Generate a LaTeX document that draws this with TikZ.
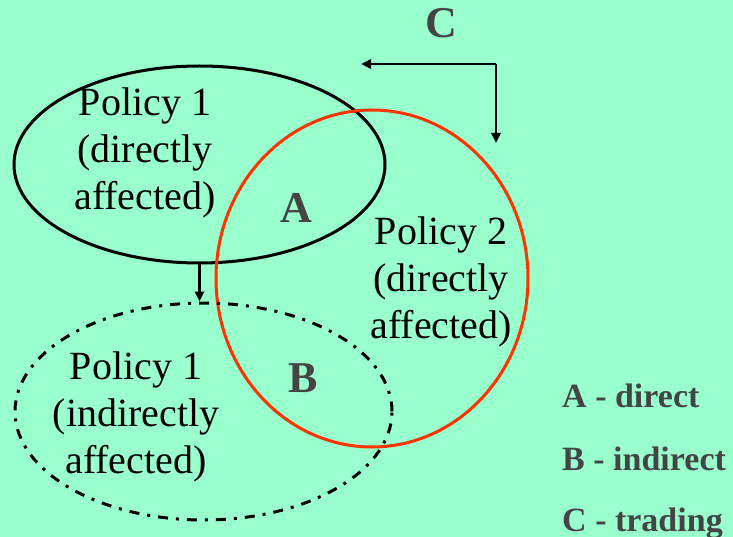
\documentclass[tikz,border=0pt]{standalone}
\usepackage{fontspec}
\setmainfont{Liberation Serif}
\usetikzlibrary{positioning, arrows.meta, shapes.geometric, calc}
\definecolor{MintBG}{HTML}{99FFCC}
\definecolor{RedA}{HTML}{FF3300}
\definecolor{GrayT}{HTML}{444444}
\tikzset{
  zone/.style={draw, ellipse, inner sep=0pt, line width=3pt},
  redzone/.style={zone, draw=RedA, line width=3pt},
  dotzone/.style={zone, dash pattern=on 10pt off 8pt on 3pt off 8pt},
  txt/.style={align=center, inner sep=0pt, font=\fontsize{40}{47}\selectfont},
  tag/.style={inner sep=0pt, text=GrayT, font=\fontsize{44}{50}\selectfont\bfseries},
  key/.style={inner sep=0pt, anchor=base west, text=GrayT, font=\fontsize{34}{40}\selectfont\bfseries},
  arr/.style={-{Triangle[length=10pt,width=9pt]}, line width=2.5pt}
}

\begin{document}
\begin{tikzpicture}[x=1pt, y=-1pt]
  \fill[MintBG] (0,0) rectangle (733,537);
  \useasboundingbox (0,0) rectangle (733,537);

  % the three policy zones
  \node[zone, minimum width=371pt, minimum height=197pt] (p1) at (199.5,164.5) {};
  \node[redzone, minimum width=312pt, minimum height=337pt] (p2) at (372,278.5) {};
  \node[dotzone, minimum width=377pt, minimum height=217pt] (p1i) at (203.5,411.5) {};

  \node[txt] (t1) at (145,153) {Policy 1\\(directly\\affected)};
  \node[txt] (t2) at (441,282) {Policy 2\\(directly\\affected)};
  \node[txt] (t3) at (136,417) {Policy 1\\(indirectly\\affected)};

  \node[tag] (a) at (296,208) {A};
  \node[tag] (b) at (303,378) {B};
  \node[tag] (c) at (441,23) {C};

  % trading arrows
  \coordinate (cnr) at (496,64);
  \coordinate (cl) at (361,64);
  \coordinate (cd) at (496,143);
  \draw[arr] (cnr) -- (cl);
  \draw[arr] (cnr) -- (cd);
  \draw[arr] (p1.south) -- (p1.south |- p1i.north);

  % legend
  \node[key] (ka) at (562,407) {A - direct};
  \node[key] (kb) at (562,470) {B - indirect};
  \node[key] (kc) at (562,531) {C - trading};
\end{tikzpicture}
\end{document}
